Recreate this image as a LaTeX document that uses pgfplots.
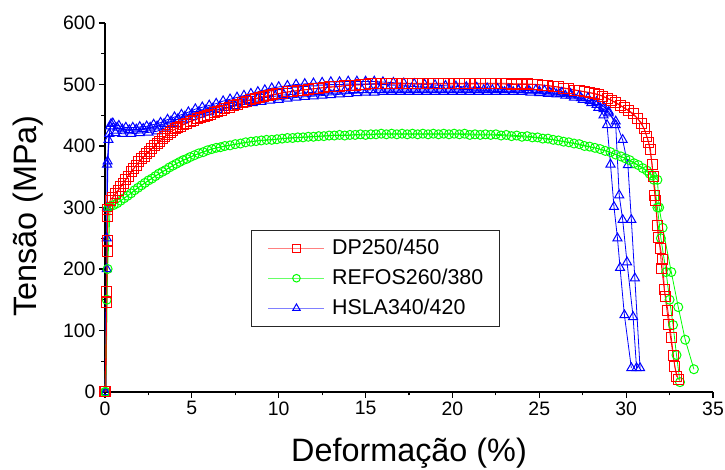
\documentclass[border=0pt]{standalone}
\usepackage{fontspec}
\setmainfont{Liberation Sans}
\usepackage{pgfplots}
\usepackage{pgfplotstable}
\pgfplotsset{compat=1.18}

\definecolor{cred}{HTML}{FF0000}
\definecolor{cgrn}{HTML}{00FF00}
\definecolor{cblu}{HTML}{0000FF}

% DP250/450, two specimens
\pgfplotstableread{
x y
0 0
0.1 146
0.12 247
0.15 297
0.3 312
0.6 322
0.9 334
1.2 346
1.5 358
1.8 369
2.1 379
2.4 388
2.7 396
3.0 404
3.3 412
3.6 419
3.9 425
4.2 430
4.5 435
4.9 440
5.3 444
5.7 448
6.1 452
6.5 456
6.9 461
7.4 466
7.9 471
8.4 475
8.9 479
9.4 482
9.9 485
10.5 488
11.1 490
11.7 492
12.3 494
12.9 496
13.5 497
14.1 499
14.7 500
15.3 501
15.9 502
16.5 502
17.1 502
17.7 502
18.3 502
18.9 502
19.5 502
20.1 502
20.7 502
21.3 502
21.9 502
22.5 502
23.1 502
23.7 501
24.3 501
24.9 500
25.5 498
26.1 496
26.7 493
27.3 490
27.9 487
28.4 484
28.9 478
29.4 471
29.9 462
30.4 453
30.9 437
31.2 415
31.4 395
31.55 350
31.7 312
31.85 252
32.1 215
32.2 166
32.4 133
32.6 88
32.8 41
33.0 20
}\dpA
\pgfplotstableread{
x y
0.05 0
0.1 163
0.12 228
0.15 285
0.45 316
0.75 327
1.05 339
1.35 351
1.65 363
1.95 374
2.25 383
2.55 391
2.85 400
3.15 408
3.45 415
3.75 422
4.05 428
4.35 432
4.7 437
5.1 442
5.5 446
5.9 450
6.3 454
6.7 458
7.15 463
7.65 468
8.15 473
8.65 477
9.15 480
9.65 483
10.2 486
10.8 489
11.4 491
12.0 493
12.6 495
13.2 496
13.8 498
14.4 499
15.0 500
15.6 501
16.2 501
16.8 501
17.4 501
18.0 501
18.6 501
19.2 501
19.8 501
20.4 501
21.0 501
21.6 501
22.2 501
22.8 501
23.4 500
24.0 500
24.6 500
25.2 499
25.8 497
26.4 494
27.0 491
27.6 488
28.15 485
28.65 481
29.15 474
29.65 466
30.15 457
30.65 445
31.05 428
31.3 405
31.5 370
31.65 320
31.8 270
31.95 234
32.05 200
32.25 155
32.45 110
32.7 60
32.9 25
}\dpB

% REFOS260/380, two specimens
\pgfplotstableread{
x y
0 0
0.1 150
0.2 300
0.5 304
0.9 311
1.3 319
1.7 328
2.1 336
2.5 344
2.9 351
3.3 358
3.7 365
4.1 371
4.5 377
4.9 382
5.4 388
5.9 393
6.4 397
6.9 400
7.5 403
8.1 406
8.7 408
9.3 410
9.9 411
10.5 413
11.1 414
11.7 415
12.3 416
12.9 417
13.5 418
14.1 418
14.7 419
15.3 419
15.9 420
16.5 420
17.1 420
17.7 420
18.3 420
18.9 420
19.5 420
20.1 420
20.7 420
21.3 419
21.9 419
22.5 419
23.1 418
23.7 417
24.3 416
24.9 414
25.5 412
26.1 409
26.7 406
27.3 403
27.9 399
28.5 395
29.1 390
29.7 383
30.2 377
30.7 369
31.2 360
31.5 352
31.8 345
31.9 300
32.1 267
32.6 195
33.0 138
33.4 85
33.9 37
}\rfA
\pgfplotstableread{
x y
0.05 0
0.15 200
0.3 302
0.7 307
1.1 315
1.5 323
1.9 332
2.3 340
2.7 347
3.1 355
3.5 361
3.9 368
4.3 374
4.7 379
5.15 385
5.65 390
6.15 395
6.65 398
7.2 401
7.8 404
8.4 407
9.0 409
9.6 410
10.2 412
10.8 413
11.4 414
12.0 415
12.6 416
13.2 417
13.8 417
14.4 418
15.0 418
15.6 419
16.2 419
16.8 419
17.4 419
18.0 419
18.6 419
19.2 419
19.8 419
20.4 419
21.0 418
21.6 418
22.2 418
22.8 417
23.4 416
24.0 415
24.6 414
25.2 412
25.8 410
26.4 407
27.0 404
27.6 400
28.2 397
28.8 392
29.4 386
29.95 380
30.45 372
30.95 364
31.35 355
31.6 345
31.8 300
32.0 250
32.3 195
32.5 150
32.7 109
32.9 60
33.1 16
}\rfB

% HSLA340/420, three specimens
\pgfplotstableread{
x y
0 0
0.1 250
0.15 375
0.3 432
0.45 437
0.8 433
1.2 430
1.6 430
2.0 431
2.4 432
2.8 435
3.2 438
3.6 443
4.0 447
4.4 451
4.8 455
5.2 460
5.6 463
6.0 466
6.4 469
6.8 473
7.2 476
7.6 479
8.0 482
8.4 485
8.8 488
9.2 491
9.6 494
10.0 496
10.5 498
11.0 500
11.5 501
12.0 502
12.5 503
13.0 504
13.5 504
14.0 505
14.5 505
15.0 505
15.5 505
16.0 504
16.6 503
17.2 502
17.8 501
18.4 500
19.0 499
19.6 498
20.2 497
20.8 496
21.4 495
22.0 494
22.6 493
23.2 492
23.8 491
24.4 490
25.0 489
25.6 487
26.2 485
26.8 482
27.4 478
27.9 473
28.3 467
28.7 460
29.0 453
29.4 440
29.8 410
30.1 369
30.3 280
30.5 185
30.8 39
}\hsA
\pgfplotstableread{
x y
0.05 0
0.1 200
0.12 370
0.25 420
0.6 421
1.0 420
1.5 420
2.0 421
2.5 422
3.0 424
3.5 430
4.0 436
4.5 442
5.0 447
5.5 451
6.0 455
6.5 459
7.0 462
7.5 465
8.0 468
8.5 470
9.0 472
9.5 474
10.0 475
10.5 477
11.0 479
11.5 480
12.0 481
12.5 482
13.0 483
13.5 484
14.0 485
14.5 486
15.0 487
15.5 487
16.0 488
16.5 488
17.0 488
17.5 488
18.0 488
18.5 488
19.0 488
19.5 488
20.0 488
20.5 488
21.0 488
21.5 488
22.0 488
22.5 488
23.0 488
23.5 488
24.0 488
24.5 487
25.0 486
25.5 485
26.0 484
26.5 482
27.0 479
27.5 475
28.0 470
28.4 462
28.7 450
28.9 434
29.1 370
29.3 301
29.5 250
29.65 202
29.9 125
30.3 39
}\hsB
\pgfplotstableread{
x y
0.05 0
0.12 300
0.2 410
0.35 436
0.7 430
1.0 427
1.4 426
1.8 427
2.2 428
2.6 430
3.0 432
3.4 436
3.8 440
4.2 444
4.6 448
5.0 452
5.4 455
5.8 458
6.2 461
6.6 464
7.0 467
7.4 470
7.8 472
8.3 475
8.8 477
9.3 479
9.8 481
10.3 483
10.8 484
11.3 486
11.8 487
12.3 488
12.8 489
13.3 490
13.8 490
14.3 491
14.8 491
15.3 491
15.8 491
16.3 491
16.8 491
17.3 491
17.8 491
18.3 491
18.8 491
19.3 491
19.8 491
20.3 491
20.8 491
21.3 491
21.8 491
22.3 491
22.8 491
23.3 491
23.8 491
24.3 491
24.8 491
25.3 490
25.8 489
26.3 487
26.8 485
27.3 482
27.8 478
28.3 472
28.7 464
29.0 456
29.4 434
29.6 320
29.8 280
30.05 211
30.4 122
30.6 39
}\hsC

\begin{document}
\begin{tikzpicture}
\begin{axis}[
  name=ax,
  scale only axis, width=608bp, height=369bp,
  xmin=0, xmax=35, ymin=0, ymax=600,
  axis x line*=bottom, axis y line*=left,
  axis line style={line width=1.5bp, black},
  xtick={0,5,...,35}, ytick={0,100,...,600},
  minor x tick num=1, minor y tick num=1,
  tick align=outside,
  major tick length=6bp, minor tick length=3.5bp,
  tick style={line width=1.2bp, black},
  /pgf/number format/assume math mode=true,
  ticklabel style={font=\fontsize{19.5}{19.5}\selectfont},
  xlabel={Deformação (\%)},
  ylabel={Tensão (MPa)},
  label style={font=\fontsize{32.5}{32.5}\selectfont, inner sep=0pt},
  xlabel style={at={(axis description cs:0.5,-0.1897)}, anchor=base},
  ylabel style={at={(axis description cs:-0.1266,0.477)}, anchor=center},
  clip=false,
  every axis plot/.append style={line width=0.8bp},
  mark options={solid, fill=white, line width=1bp},
  legend image code/.code={\draw[mark repeat=2,mark phase=2] plot coordinates {(0bp,0bp) (28bp,0bp) (56bp,0bp)};},
  legend style={at={(axis cs:8.42,264)}, anchor=north west,
    draw=black!85, line width=1.2bp,
    font=\fontsize{21.5}{21.5}\selectfont,
    inner xsep=16bp, inner ysep=8bp, row sep=10bp,
    nodes={inner sep=0pt, text height=16bp, text depth=4bp},
    /tikz/every odd column/.append style={column sep=7bp}},
  legend cell align=left,
]
\addplot[cblu, mark=triangle, mark size=5.2bp, forget plot] table {\hsB};
\addplot[cblu, mark=triangle, mark size=5.2bp, forget plot] table {\hsC};
\addplot[cblu, mark=triangle, mark size=5.2bp, forget plot] table {\hsA};
\addplot[cgrn, mark=o, mark size=4.5bp, forget plot] table {\rfB};
\addplot[cgrn, mark=o, mark size=4.5bp, forget plot] table {\rfA};
\addplot[cred, mark=square, mark size=5bp, forget plot] table {\dpB};
\addplot[cred, mark=square, mark size=5bp, forget plot] table {\dpA};

\addlegendimage{cred!50, line width=1.2bp, mark=square, mark size=4.2bp, mark options={draw=cred, fill=white, line width=1bp}}
\addlegendentry{DP250/450}
\addlegendimage{cgrn!60, line width=1.2bp, mark=o, mark size=3.8bp, mark options={draw=cgrn, fill=white, line width=1bp}}
\addlegendentry{REFOS260/380}
\addlegendimage{cblu!50, line width=1.2bp, mark=triangle, mark size=4.3bp, mark options={draw=cblu, fill=white, line width=1bp}}
\addlegendentry{HSLA340/420}
\end{axis}
\pgfresetboundingbox
\path[use as bounding box] ([xshift=-105bp,yshift=-78bp]ax.south west) rectangle ([xshift=12bp,yshift=23bp]ax.north east);
\end{tikzpicture}
\end{document}
